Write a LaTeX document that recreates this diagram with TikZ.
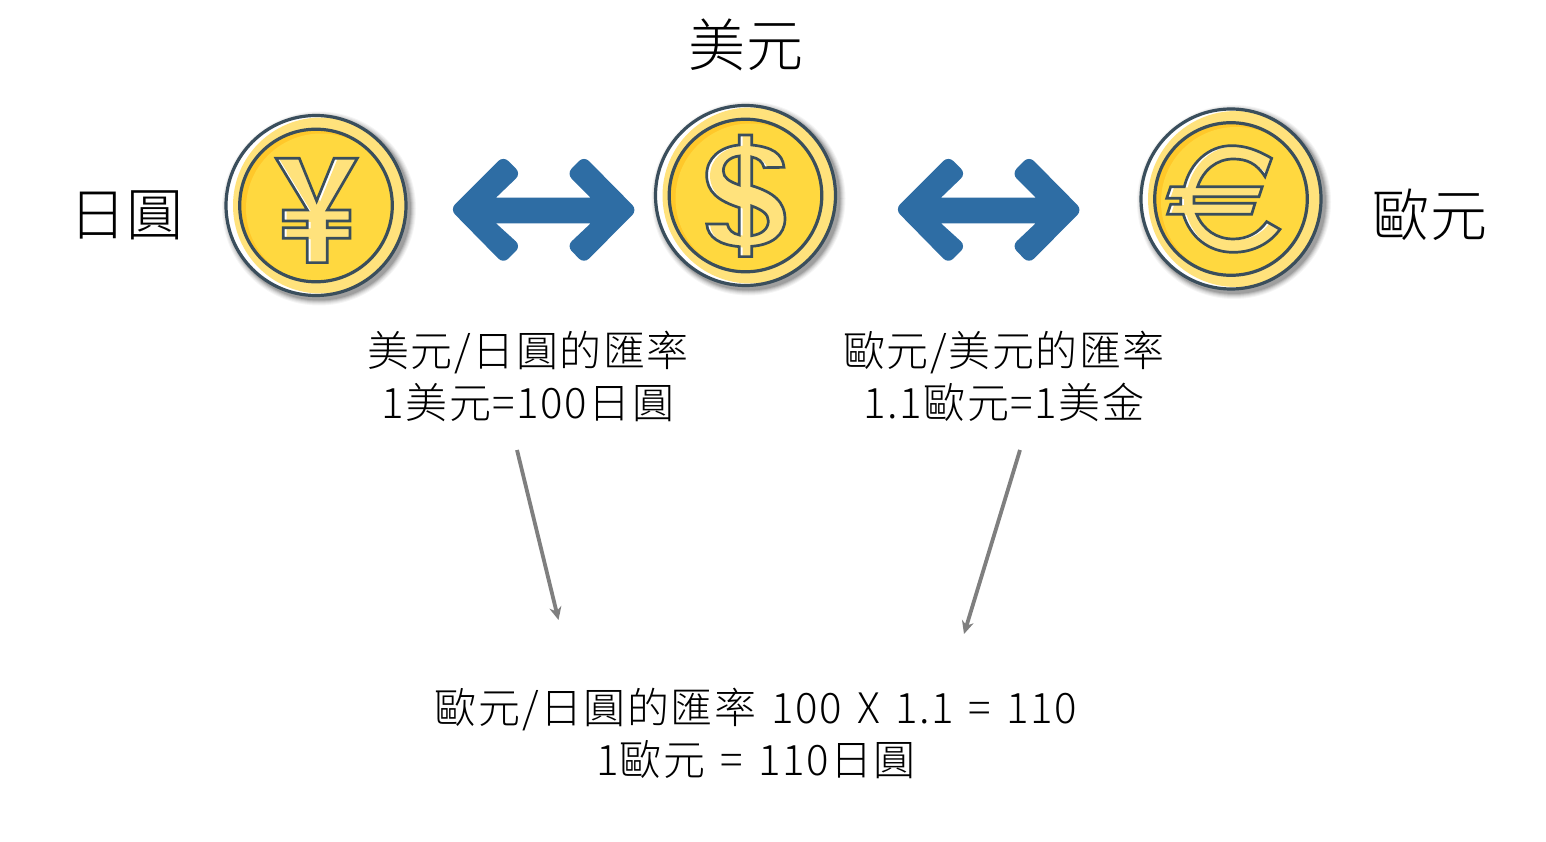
\documentclass[tikz,border=0pt]{standalone}
\usepackage{fontspec}
\setmainfont{Noto Sans CJK TC Light}
\newfontface\ratefont[LetterSpace=3.7,WordSpace=1.4]{Noto Sans CJK TC Light}
\newfontface\headfont[LetterSpace=1]{Noto Sans CJK TC Light}
\usetikzlibrary{arrows.meta}
\definecolor{coinink}{HTML}{3A4E5C}
\definecolor{coinrim}{HTML}{FFE27C}
\definecolor{coinmain}{HTML}{FFD83F}
\definecolor{coindeep}{HTML}{FFC82A}
\definecolor{blockblue}{HTML}{2E6DA4}
\definecolor{linkgray}{HTML}{7F7F7F}
\tikzset{
  inkline/.style={draw=coinink,line width=2.7pt,line join=miter},
  ringline/.style={draw=coinink,line width=3.2pt},
  bigtext/.style={font=\headfont\fontsize{57}{60}\selectfont,inner sep=0pt},
  ratetext/.style={font=\ratefont\fontsize{42}{52}\selectfont,align=center,inner sep=0pt},
  blockarrow/.style={fill=blockblue},
  roundcorner/.style={rounded corners=7pt},
  linkarrow/.style={draw=linkgray,line width=3.8pt,-{Stealth[length=13pt,width=12pt]}}
}
% #1 cx, #2 cy: coin without its symbol
\newcommand{\coinbody}[2]{%
  \foreach \r/\o in {97/.04,96/.05,95/.06,94/.08,93/.10,92/.12}{
    \fill[black,opacity=\o] (#1+3,#2+3) circle[radius=\r];}
  \fill[white] (#1,#2) circle[radius=90];
  \begin{scope}
    \clip (#1,#2) circle[radius=90];
    \fill[coinrim] (#1+5,#2) circle[radius=88];
  \end{scope}
  \fill[coindeep] (#1,#2) circle[radius=76];
  \begin{scope}
    \clip (#1,#2) circle[radius=76];
    \fill[coinmain] (#1+5,#2+3) circle[radius=75];
  \end{scope}
  \draw[ringline] (#1,#2) circle[radius=90];
  \draw[ringline] (#1,#2) circle[radius=76.3];
}
% #1 closed outline: white with a lighter face moved right, then inked
\newcommand{\glyphshape}[1]{%
  \begin{scope}
    \clip #1;
    \fill[white] #1;
    \begin{scope}[xshift=3.4pt,yshift=-.8pt]
      \fill[coinrim] #1;
    \end{scope}
  \end{scope}
  \draw[inkline] #1;
}
\newcommand{\blockshape}{[roundcorner] (30,190) -- (190,30) -- (243,83) [sharp corners] -- (168,155) -- (452,155) [roundcorner] -- (380,83) -- (432,30) -- (592,192) -- (432,353) -- (380,300) [sharp corners] -- (452,232) -- (168,232) [roundcorner] -- (243,300) -- (190,353) -- cycle}
\begin{document}
\begin{tikzpicture}[x=1pt,y=-1pt]
\useasboundingbox (0,0) rectangle (1546,842);

% coins
\coinbody{316}{205.5}
\begin{scope}[x=.3333pt,y=-.3333pt,shift={(210pt,-95pt)}]
  \glyphshape{(198,190) -- (268,190) -- (320,318) -- (372,190) -- (442,190) -- (352,345) -- (420,345) -- (420,378) -- (352,378) -- (352,398) -- (420,398) -- (420,430) -- (352,430) -- (352,503) -- (292,503) -- (292,430) -- (220,430) -- (220,398) -- (292,398) -- (292,378) -- (220,378) -- (220,345) -- (292,345) -- cycle}
\end{scope}

\coinbody{745.5}{195.5}
\begin{scope}[x=.3333pt,y=-.3333pt,shift={(640pt,-95pt)}]
  \glyphshape{(298,120) -- (335,120) -- (335,150) .. controls (395,156) and (428,175) .. (432,217) -- (372,218) .. controls (368,200) and (355,190) .. (335,186) -- (335,272) .. controls (400,292) and (435,320) .. (435,372) .. controls (435,420) and (395,450) .. (335,454) -- (335,485) -- (298,485) -- (298,455) .. controls (240,450) and (204,428) .. (200,387) -- (262,387) .. controls (266,405) and (278,416) .. (298,420) -- (298,338) .. controls (235,318) and (200,290) .. (200,240) .. controls (200,190) and (240,155) .. (298,150) -- cycle}
  \filldraw[inkline,fill=coinmain] (298,183) .. controls (268,186) and (250,205) .. (250,228) .. controls (250,248) and (268,260) .. (298,270) -- cycle;
  \filldraw[inkline,fill=coinmain] (335,333) .. controls (368,345) and (385,358) .. (385,378) .. controls (385,402) and (365,418) .. (335,422) -- cycle;
\end{scope}

\coinbody{1231}{199}
\begin{scope}[x=.3333pt,y=-.3333pt,shift={(1125pt,-95pt)}]
  \glyphshape{(440,190) .. controls (398,165) and (360,152) .. (320,152) .. controls (250,152) and (195,205) .. (178,275) -- (137,275) -- (125,310) -- (167,310) -- (167,328) -- (137,328) -- (127,358) -- (175,358) .. controls (195,425) and (250,472) .. (325,472) .. controls (385,472) and (435,445) .. (465,403) -- (425,380) .. controls (400,415) and (365,432) .. (325,432) .. controls (275,432) and (235,405) .. (215,358) -- (380,358) -- (390,325) -- (207,325) -- (207,305) -- (402,305) -- (412,275) -- (218,275) .. controls (235,225) and (275,192) .. (325,192) .. controls (365,192) and (395,205) .. (420,245) -- cycle}
\end{scope}

% block arrows
\begin{scope}[x=.3333pt,y=-.3333pt,shift={(440pt,-146pt)}]
  \fill[blockarrow] \blockshape;
\end{scope}
\begin{scope}[x=.3333pt,y=-.3333pt,shift={(885pt,-146pt)}]
  \fill[blockarrow] \blockshape;
\end{scope}

% texts
\node[bigtext] (usd) at (746,45) {美元};
\node[bigtext] (jpy) at (126.5,215) {日圓};
\node[bigtext] (eur) at (1430,215) {歐元};
\node[ratetext] (rateusd) at (528,376) {美元/日圓的匯率\\1美元=100日圓};
\node[ratetext] (rateeur) at (1004,376) {歐元/美元的匯率\\1.1歐元=1美金};
\node[ratetext] (cross) at (756,733) {歐元/日圓的匯率 100 X 1.1 = 110\\1歐元 = 110日圓};

% links
\coordinate (la) at (517,450);
\coordinate (lb) at (558.5,620);
\coordinate (ra) at (1020,450);
\coordinate (rb) at (964,634);
\draw[linkarrow] (la) -- (lb);
\draw[linkarrow] (ra) -- (rb);
\end{tikzpicture}
\end{document}
